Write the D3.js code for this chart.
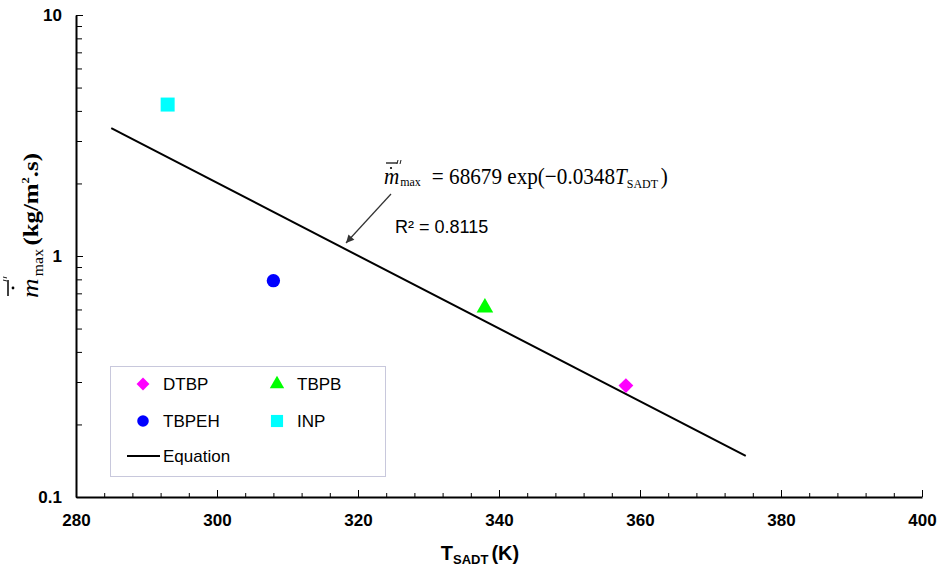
<!DOCTYPE html>
<meta charset="utf-8">
<head>
  <style>
    body { margin: 0; background: #fff; }
    .tick text { font: bold 17px "Liberation Sans", Arial, sans-serif; fill: #000; }
    .axis path, .axis line { stroke: #000; }
    .legend text { font: 17px "Liberation Sans", Arial, sans-serif; }
  </style>
</head>
<body>
  <script src="https://d3js.org/d3.v7.min.js"></script>
  <div id="chart"></div>
  <script>
    // data
    var names = ["DTBP", "TBPEH", "TBPB", "INP"];
    var tsadt = [358, 308, 338, 293];
    var mdot = [0.29, 0.79, 0.61, 4.25];
    var colors = ["#ff00ff", "#0000ff", "#00ff00", "#00ffff"];
    var symbols = [d3.symbolSquare, d3.symbolCircle, d3.symbolTriangle, d3.symbolSquare];
    var rotations = [45, 0, 0, 0];
    // fitted line, end points
    var fitT = [285, 375];
    var fitM = [3.39, 0.148];
    var xTicks = [280, 300, 320, 340, 360, 380, 400];
    var yTicks = [0.1, 1, 10];

    var width = 948, height = 578;
    var margin = { top: 15, right: 26, bottom: 81, left: 76 };

    var svg = d3.select('#chart').append('svg')
      .attr('width', width)
      .attr('height', height);

    var x = d3.scaleLinear().domain([280, 400]).range([margin.left, width - margin.right]);
    var y = d3.scaleLog().domain([0.1, 10]).range([height - margin.bottom, margin.top]);

    // minor ticks
    var xMinor = d3.range(280, 401, 4).filter(function (v) { return v % 20 !== 0; });
    var yMinor = [];
    [0.1, 1].forEach(function (b) { for (var k = 2; k <= 9; k++) yMinor.push(b * k); });

    svg.append('g').attr('class', 'axis')
      .attr('transform', 'translate(0,' + (height - margin.bottom) + ')')
      .call(d3.axisBottom(x).tickValues(xMinor).tickSize(-4).tickFormat(''))
      .call(function (g) { g.select('.domain').remove(); });
    svg.append('g').attr('class', 'axis')
      .attr('transform', 'translate(' + margin.left + ',0)')
      .call(d3.axisLeft(y).tickValues(yMinor).tickSize(-6).tickFormat(''))
      .call(function (g) { g.select('.domain').remove(); });

    var xAxis = svg.append('g').attr('class', 'axis')
      .attr('transform', 'translate(0,' + (height - margin.bottom) + ')')
      .call(d3.axisBottom(x).tickValues(xTicks).tickSizeInner(-7).tickSizeOuter(0).tickPadding(17).tickFormat(d3.format('d')));
    xAxis.select('.domain').attr('stroke-width', 2);

    var yAxis = svg.append('g').attr('class', 'axis')
      .attr('transform', 'translate(' + margin.left + ',0)')
      .call(d3.axisLeft(y).tickValues(yTicks).tickSizeInner(-7).tickSizeOuter(0).tickPadding(14).tickFormat(function (d) { return d; }));
    yAxis.select('.domain').attr('stroke-width', 2);

    // fit line
    svg.append('path')
      .datum(d3.zip(fitT, fitM))
      .attr('fill', 'none')
      .attr('stroke', '#000')
      .attr('stroke-width', 2)
      .attr('d', d3.line().x(function (d) { return x(d[0]); }).y(function (d) { return y(d[1]); }));

    // points
    var symSize = [110, 140, 120, 196];
    svg.selectAll('.pt')
      .data(names)
      .enter().append('path')
      .attr('class', 'pt')
      .attr('transform', function (d, i) { return 'translate(' + x(tsadt[i]) + ',' + y(mdot[i]) + ') rotate(' + rotations[i] + ')'; })
      .attr('d', function (d, i) { return d3.symbol().type(symbols[i]).size(symSize[i])(); })
      .attr('fill', function (d, i) { return colors[i]; });

    // double prime drawn as two short strokes
    function dprime(parent, px, py) {
      [0, 3].forEach(function (o) {
        parent.append('line')
          .attr('x1', px + o + 1).attr('y1', py)
          .attr('x2', px + o).attr('y2', py + 4)
          .attr('stroke', '#000').attr('stroke-width', 0.9);
      });
    }

    // equation annotation
    var serif = '"Liberation Serif", "Times New Roman", serif';
    var eqg = svg.append('g').attr('transform', 'translate(384,184)');
    var eq = eqg.append('text')
      .style('font-family', serif).style('font-size', '23px');
    eq.append('tspan').style('font-style', 'italic').text('m');
    eq.append('tspan').attr('dx', 1).attr('dy', 2).style('font-size', '13px').text('max');
    eq.append('tspan').attr('dx', 12).attr('dy', -2).text('= 68679 exp(\u22120.0348');
    eq.append('tspan').style('font-style', 'italic').text('T');
    eq.append('tspan').attr('dy', 4).style('font-size', '13px').text('SADT');
    eq.append('tspan').attr('dx', 3).attr('dy', -4).text(')');
    var eqw = eq.node().getBBox().width;
    eqg.attr('transform', 'translate(384,184) scale(' + (284 / eqw) + ',1)');
    svg.append('line').attr('x1', 386).attr('x2', 397).attr('y1', 163).attr('y2', 163).attr('stroke', '#000').attr('stroke-width', 1.2);
    svg.append('circle').attr('cx', 391).attr('cy', 168).attr('r', 1.1).attr('fill', '#000');
    dprime(svg, 397, 160);

    svg.append('text')
      .attr('x', 395).attr('y', 233)
      .style('font', '18px "Liberation Sans", Arial, sans-serif')
      .text('R\u00b2 = 0.8115');

    // arrow
    svg.append('defs').append('marker')
      .attr('id', 'ah').attr('viewBox', '0 0 10 10').attr('refX', 10).attr('refY', 5)
      .attr('markerWidth', 12).attr('markerHeight', 8).attr('markerUnits', 'userSpaceOnUse')
      .attr('orient', 'auto')
      .append('path').attr('d', 'M0,0L10,5L0,10z').attr('fill', '#333');
    svg.append('line')
      .attr('x1', 391).attr('y1', 194).attr('x2', 346).attr('y2', 243)
      .attr('stroke', '#333').attr('stroke-width', 1.2)
      .attr('marker-end', 'url(#ah)');

    // legend
    var lg = svg.append('g').attr('class', 'legend');
    lg.append('rect')
      .attr('x', 110.5).attr('y', 366.5).attr('width', 275).attr('height', 110)
      .attr('fill', '#fff').attr('stroke', '#c8c8dc');
    var lpos = [[143, 384], [143, 421], [277, 384], [277, 421]];
    names.forEach(function (n, i) {
      lg.append('path')
        .attr('transform', 'translate(' + lpos[i][0] + ',' + lpos[i][1] + ') rotate(' + rotations[i] + ')')
        .attr('d', d3.symbol().type(symbols[i]).size(symSize[i] * 0.75)())
        .attr('fill', colors[i]);
      lg.append('text').attr('x', lpos[i][0] + 20).attr('y', lpos[i][1] + 6).text(n);
    });
    lg.append('line').attr('x1', 127).attr('x2', 160).attr('y1', 456).attr('y2', 456)
      .attr('stroke', '#000').attr('stroke-width', 2);
    lg.append('text').attr('x', 163).attr('y', 462).text('Equation');

    // x axis title
    var xt = svg.append('text')
      .attr('x', 480).attr('y', 560).attr('text-anchor', 'middle')
      .style('font', 'bold 20px "Liberation Sans", Arial, sans-serif');
    xt.append('tspan').text('T');
    xt.append('tspan').attr('dy', 4).style('font-size', '13px').text('SADT');
    xt.append('tspan').attr('dy', -4).attr('dx', 3).text('(K)');

    // y axis title
    var yg = svg.append('g').attr('transform', 'translate(38,298) rotate(-90)');
    var yin = yg.append('g');
    var yt = yin.append('text').style('font-family', serif);
    yt.append('tspan').style('font-style', 'italic').style('font-size', '24px').text('m');
    yt.append('tspan').attr('dx', 2).attr('dy', 5).style('font-size', '14px').text('max');
    yt.append('tspan').attr('dx', 3).attr('dy', -5).style('font-size', '22px').style('font-weight', 'bold').text('(kg/m');
    yt.append('tspan').attr('dy', -9).style('font-size', '11px').style('font-weight', 'bold').text('2');
    yt.append('tspan').attr('dy', 9).style('font-size', '22px').style('font-weight', 'bold').text('.s)');
    var yw = yt.node().getBBox().width;
    yin.attr('transform', 'scale(' + (145 / yw) + ',1)');
    yg.append('line').attr('x1', 2).attr('x2', 18).attr('y1', -30).attr('y2', -30).attr('stroke', '#000').attr('stroke-width', 1.5);
    yg.append('circle').attr('cx', 10).attr('cy', -25).attr('r', 1.4).attr('fill', '#000');
    dprime(yg, 17, -35);
  </script>
</body>
